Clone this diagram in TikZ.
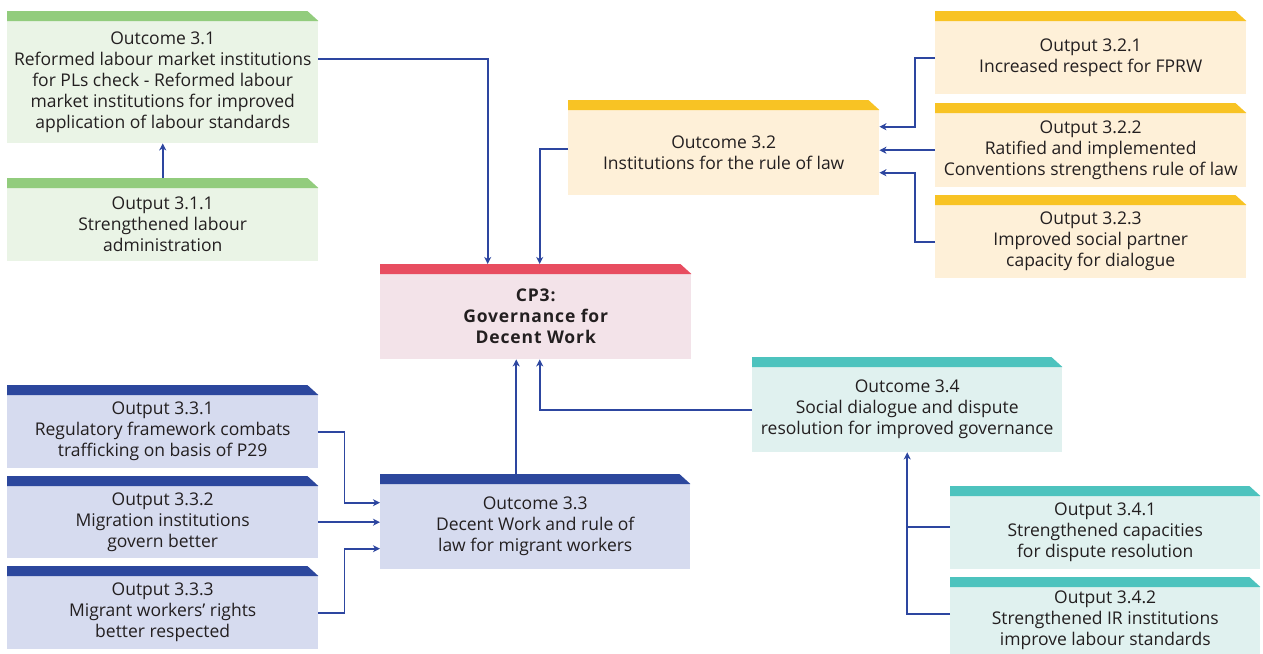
\documentclass[tikz,border=0pt]{standalone}
\usepackage{fontspec}
\setmainfont{Open Sans}
\usepackage{tikz}
\usetikzlibrary{arrows.meta, positioning, calc}
\definecolor{greenhead}{RGB}{146, 204, 125}
\definecolor{greenbody}{RGB}{234, 244, 230}
\definecolor{yellowhead}{RGB}{248, 195, 36}
\definecolor{yellowbody}{RGB}{254, 240, 216}
\definecolor{redhead}{RGB}{232, 77, 96}
\definecolor{redbody}{RGB}{243, 227, 233}
\definecolor{navyhead}{RGB}{44, 71, 157}
\definecolor{navybody}{RGB}{214, 219, 239}
\definecolor{tealhead}{RGB}{77, 195, 190}
\definecolor{tealbody}{RGB}{224, 241, 239}
\definecolor{linkblue}{RGB}{45, 70, 160}
\definecolor{inktext}{RGB}{35, 31, 32}
\tikzset{
  card/.style={fill=#1body, text=inktext, align=center, inner sep=0pt,
    minimum width=311pt, anchor=north west,
    font=\fontsize{17.5}{21}\selectfont},
  link/.style={draw=linkblue, line width=1.8pt},
  linkarrow/.style={link, -{Stealth[length=7pt, width=7pt, inset=2pt]}}
}
% header strip above a card, with the clipped corner
\newcommand{\headbar}[2]{%
  \fill[#2head] (#1.north west) -- ++(0,-10) -- ($(#1.north east)+(-11,-10)$) -- (#1.north east) -- cycle;
  \coordinate (#1-top) at ($(#1.north)+(0,-10)$);}

\begin{document}
\begin{tikzpicture}[x=1pt, y=-1pt]
  \useasboundingbox (0,0) rectangle (1263,653);

  \node[card=green, minimum height=122pt] (o31) at (7,21)
    {Outcome 3.1\\Reformed labour market institutions\\for PLs check - Reformed labour\\market institutions for improved\\application of labour standards};
  \headbar{o31}{green}
  \node[card=green, minimum height=73pt] (p311) at (7,188)
    {Output 3.1.1\\Strengthened labour\\administration};
  \headbar{p311}{green}

  \node[card=yellow, minimum height=85pt] (o32) at (568,110)
    {Outcome 3.2\\Institutions for the rule of law};
  \headbar{o32}{yellow}
  \node[card=yellow, minimum height=73pt] (p321) at (935,21)
    {Output 3.2.1\\Increased respect for FPRW};
  \headbar{p321}{yellow}
  \node[card=yellow, minimum height=74pt] (p322) at (935,113)
    {Output 3.2.2\\Ratified and implemented\\Conventions strengthens rule of law};
  \headbar{p322}{yellow}
  \node[card=yellow, minimum height=73pt] (p323) at (935,205)
    {Output 3.2.3\\Improved social partner\\capacity for dialogue};
  \headbar{p323}{yellow}

  \node[card=red, minimum height=85pt,
    font=\fontsize{17.5}{21}\selectfont\bfseries\addfontfeature{LetterSpace=5}] (cp3) at (380,274)
    {CP3:\\Governance for\\Decent Work};
  \headbar{cp3}{red}

  \node[card=navy, minimum width=310pt, minimum height=85pt] (o33) at (380,484)
    {Outcome 3.3\\Decent Work and rule of\\law for migrant workers};
  \headbar{o33}{navy}
  \node[card=navy, minimum height=73pt] (p331) at (7,395)
    {Output 3.3.1\\Regulatory framework combats\\trafficking on basis of P29};
  \headbar{p331}{navy}
  \node[card=navy, minimum height=72pt] (p332) at (7,486)
    {Output 3.3.2\\Migration institutions\\govern better};
  \headbar{p332}{navy}
  \node[card=navy, minimum height=73pt] (p333) at (7,576)
    {Output 3.3.3\\Migrant workers’ rights\\better respected};
  \headbar{p333}{navy}

  \node[card=teal, minimum width=310pt, minimum height=85pt] (o34) at (752,367)
    {Outcome 3.4\\Social dialogue and dispute\\resolution for improved governance};
  \headbar{o34}{teal}
  \node[card=teal, minimum width=310pt, minimum height=73pt] (p341) at (950,496)
    {Output 3.4.1\\Strengthened capacities\\for dispute resolution};
  \headbar{p341}{teal}
  \node[card=teal, minimum width=310pt, minimum height=67pt] (p342) at (950,587)
    {Output 3.4.2\\Strengthened IR institutions\\improve labour standards};
  \headbar{p342}{teal}

  \draw[linkarrow] (p311-top) -- (o31.south);
  \draw[linkarrow] ($(o31.east)+(0,-23)$) -| ($(cp3-top)+(-48,0)$);
  \draw[linkarrow] ($(o32.west)+(0,-4)$) -| ($(cp3-top)+(4,0)$);

  \draw[linkarrow] (p321.west) -- ++(-20,0) |- ($(o32.east)+(0,-26)$);
  \draw[linkarrow] (p322.west) -- (o32.east |- p322.west);
  \draw[linkarrow] (p323.west) -- ++(-20,0) |- ($(o32.east)+(0,20)$);

  \coordinate (up33) at ($(o33-top)+(-19,0)$);
  \draw[linkarrow] (up33) -- (up33 |- cp3.south);
  \draw[linkarrow] (o34.west) -| ($(cp3.south)+(4,0)$);

  \draw[linkarrow] (p331.east) -- ++(26,0) |- ($(o33.west)+(0,-24)$);
  \draw[linkarrow] (p332.east) -- (o33.west |- p332.east);
  \draw[linkarrow] (p333.east) -- ++(26,0) |- ($(o33.west)+(0,22)$);

  \draw[link] ($(p341.west)+(0,-6)$) -- ++(-43,0);
  \draw[linkarrow] ($(p342.west)+(0,-7)$) -| (o34.south);
\end{tikzpicture}
\end{document}
